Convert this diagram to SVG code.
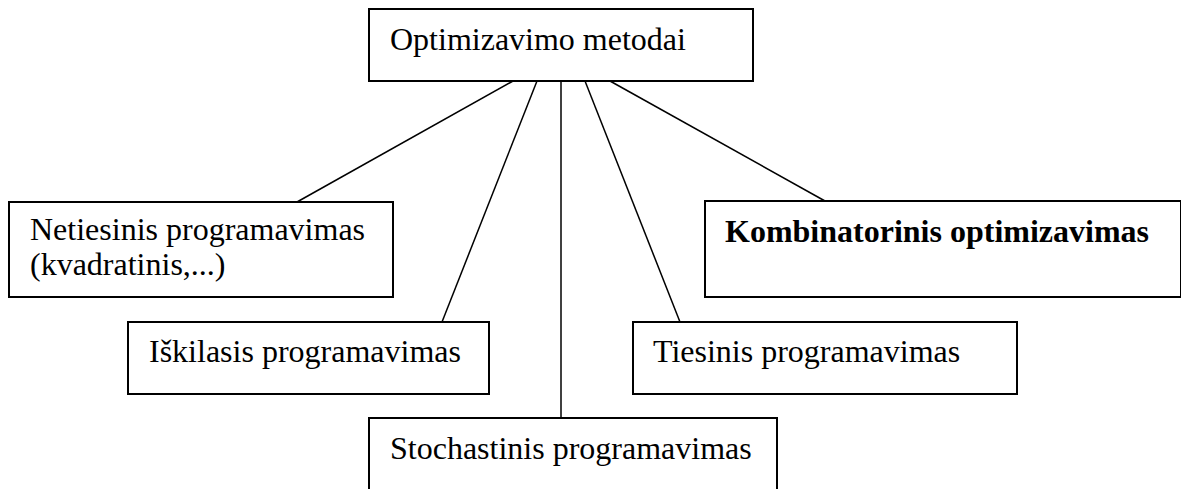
<svg xmlns="http://www.w3.org/2000/svg" width="1181" height="489" viewBox="0 0 1181 489">
<style>
.box{fill:#fff;stroke:#000;stroke-width:2}
.t{font-family:"Liberation Serif","Times New Roman",serif;font-size:32px;fill:#000}
.b{font-weight:bold}
.c{stroke:#000;stroke-width:1.5;fill:none}
</style>
<rect width="1181" height="489" fill="#fff"/>
<g id="connectors">
<line class="c" x1="513" y1="81" x2="297" y2="202"/>
<line class="c" x1="537" y1="81" x2="442" y2="322"/>
<line class="c" x1="561" y1="81" x2="561" y2="418"/>
<line class="c" x1="585" y1="81" x2="680" y2="322"/>
<line class="c" x1="610" y1="81" x2="825" y2="201"/>
</g>
<g id="root">
<rect class="box" x="369" y="9" width="384" height="72"/>
<text class="t" x="390" y="50">Optimizavimo metodai</text>
</g>
<g id="netiesinis">
<rect class="box" x="9" y="202" width="384" height="95"/>
<text class="t" x="30" y="240">Netiesinis programavimas</text>
<text class="t" x="30" y="275">(kvadratinis,...)</text>
</g>
<g id="kombinatorinis">
<rect class="box" x="705" y="201" width="476" height="96"/>
<text class="t b" x="725" y="242">Kombinatorinis optimizavimas</text>
</g>
<g id="iskilasis">
<rect class="box" x="128" y="322" width="361" height="72"/>
<text class="t" x="149" y="362">Iškilasis programavimas</text>
</g>
<g id="tiesinis">
<rect class="box" x="633" y="322" width="384" height="72"/>
<text class="t" x="653" y="362">Tiesinis programavimas</text>
</g>
<g id="stochastinis">
<rect class="box" x="369" y="418" width="408" height="80"/>
<text class="t" x="390" y="459">Stochastinis programavimas</text>
</g>
</svg>
